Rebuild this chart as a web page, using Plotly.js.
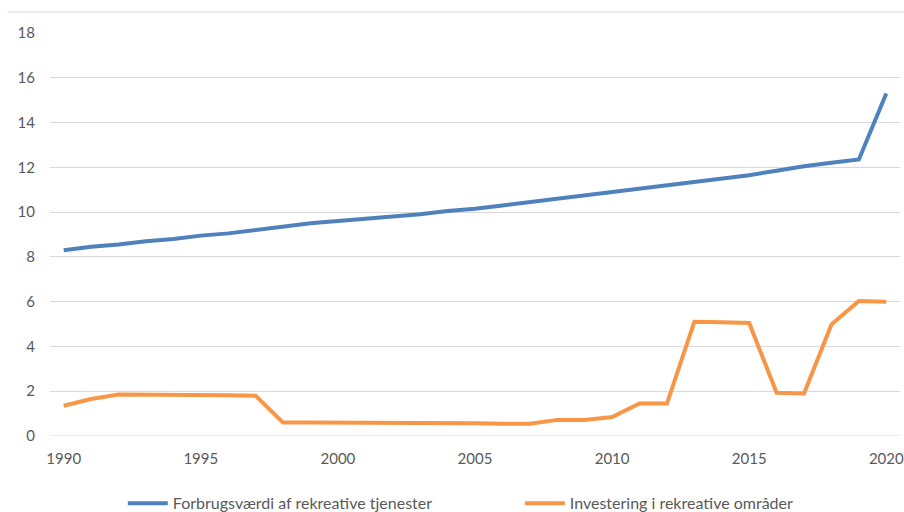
<!DOCTYPE html>
<html>
<head>
<meta charset="utf-8">
<script src="https://cdn.plot.ly/plotly-3.0.1.min.js"></script>
<style>html,body{margin:0;padding:0;background:#fff;}#chart{width:904px;height:512px;}</style>
</head>
<body>
<div id="chart"></div>
<script>
const years = [1990,1991,1992,1993,1994,1995,1996,1997,1998,1999,2000,2001,2002,2003,2004,2005,2006,2007,2008,2009,2010,2011,2012,2013,2014,2015,2016,2017,2018,2019,2020];
const forbrugsvaerdi = [8.3,8.45,8.55,8.7,8.8,8.95,9.05,9.2,9.35,9.5,9.6,9.7,9.8,9.9,10.05,10.15,10.3,10.45,10.6,10.75,10.9,11.05,11.2,11.35,11.5,11.65,11.85,12.05,12.2,12.35,15.3];
const investering = [1.35,1.65,1.85,1.85,1.82,1.82,1.82,1.8,0.6,0.6,0.6,0.6,0.57,0.57,0.57,0.57,0.55,0.55,0.72,0.72,0.85,1.45,1.45,5.1,5.08,5.05,1.93,1.9,4.98,6.03,6.0];
const seriesNames = ["Forbrugsværdi af rekreative tjenester","Investering i rekreative områder"];
const xTicks = [1990,1995,2000,2005,2010,2015,2020];
const yTicks = [0,2,4,6,8,10,12,14,16,18];

const traces = [
  {x: years, y: forbrugsvaerdi, name: seriesNames[0], type: 'scatter', mode: 'lines',
   line: {color: '#4F81BD', width: 4}},
  {x: years, y: investering, name: seriesNames[1], type: 'scatter', mode: 'lines',
   line: {color: '#F79646', width: 4}}
];

const layout = {
  width: 904, height: 512,
  margin: {l: 50, r: 4, t: 33, b: 76},
  paper_bgcolor: '#ffffff', plot_bgcolor: '#ffffff',
  font: {family: 'Lato, "Open Sans", sans-serif', size: 15, color: '#595959'},
  showlegend: true,
  legend: {orientation: 'h', xref: 'container', yref: 'container',
           x: 0.575, xanchor: 'center', y: 0.017, yanchor: 'middle',
           font: {size: 16, color: '#595959'}, itemwidth: 40, traceorder: 'normal',
           entrywidth: 342},
  xaxis: {range: [1989.5, 2020.5], tickvals: xTicks, ticktext: xTicks.map(String),
          showgrid: false, zeroline: false, showline: false, ticks: '',
          ticklabelstandoff: 12, tickfont: {size: 15, color: '#595959'}, automargin: false},
  yaxis: {range: [0, 18], tickvals: yTicks, ticktext: yTicks.map(String),
          showgrid: true, gridcolor: '#D9D9D9', gridwidth: 1, zeroline: false,
          showline: false, ticks: '', ticklabelstandoff: 14,
          tickfont: {size: 15, color: '#595959'}, automargin: false},
  shapes: [
    {type: 'line', xref: 'paper', yref: 'paper', x0: -0.05, x1: 1.005, y0: 1.052, y1: 1.052,
     line: {color: '#D9D9D9', width: 1}},
    {type: 'line', xref: 'paper', yref: 'y', x0: 0, x1: 1, y0: 0, y1: 0,
     line: {color: '#D9D9D9', width: 1}, layer: 'below'}
  ]
};

Plotly.newPlot('chart', traces, layout, {displayModeBar: false, staticPlot: true});
</script>
</body>
</html>
